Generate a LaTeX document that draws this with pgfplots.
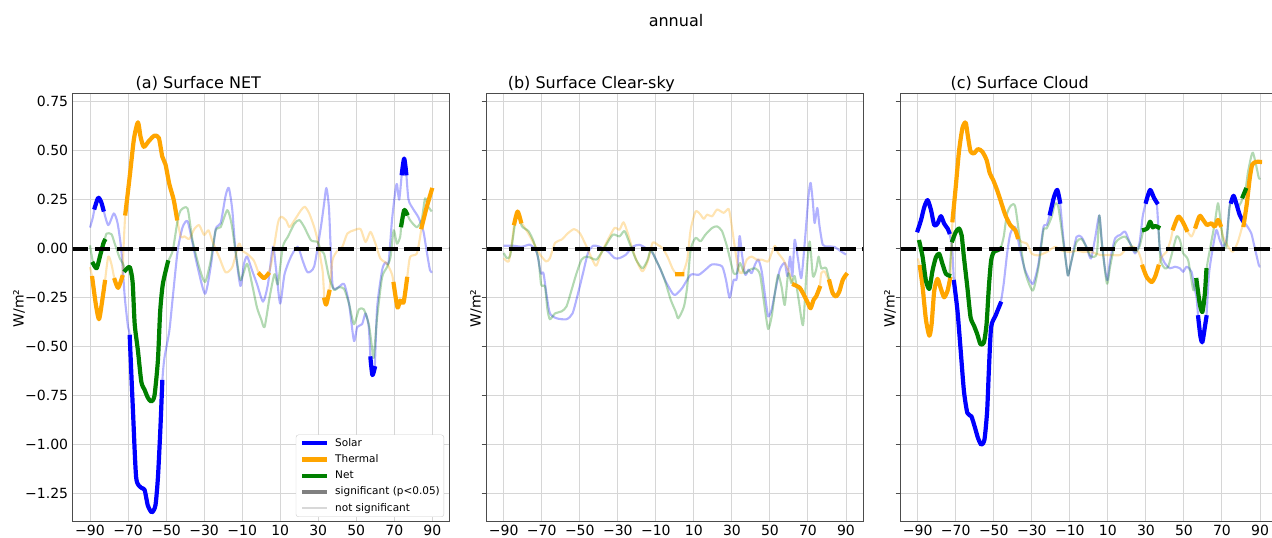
\documentclass[border=0pt]{standalone}
\usepackage{fontspec}
\setmainfont{DejaVu Sans}
\usepackage{pgfplots}
\usepackage{pgfplotstable}
\pgfplotsset{compat=1.18}
\definecolor{cS}{rgb}{0,0,1}
\definecolor{cT}{rgb}{1,0.647,0}
\definecolor{cN}{rgb}{0,0.502,0}

% ---------- (a) Surface NET ----------
\pgfplotstableread{
x y s
-90 0.108 0
-88.5 0.16 0
-87.5 0.21 1
-85.7 0.26 1
-84.2 0.24 1
-83 0.20 1
-80.4 0.12 0
-77.5 0.18 0
-75.5 0.13 0
-73.5 -0.01 0
-71.7 -0.25 0
-70 -0.40 0
-69.1 -0.45 1
-67.4 -0.83 1
-65.7 -1.17 1
-63 -1.22 1
-61.3 -1.23 1
-59.6 -1.31 1
-57.5 -1.345 1
-55.6 -1.31 1
-54.3 -1.17 1
-53 -0.92 1
-52 -0.68 1
-50.9 -0.56 0
-48.3 -0.42 0
-46.5 -0.25 0
-43.9 -0.01 0
-41.3 0.11 0
-38.7 0.14 0
-36.1 0.03 0
-33.5 -0.09 0
-29.5 -0.23 0
-26.5 -0.09 0
-23.9 0.10 0
-21.3 0.13 0
-18.7 0.27 0
-17 0.31 0
-15.2 0.2 0
-13.5 -0.01 0
-10.9 -0.19 0
-9.1 -0.08 0
-7.4 -0.04 0
-4.8 -0.11 0
-2.2 -0.18 0
1 -0.27 0
3.6 -0.18 0
6.2 0.01 0
7.9 -0.11 0
10 -0.28 0
12.3 -0.13 0
15.7 -0.04 0
19.2 0.01 0
21.8 -0.06 0
24.4 -0.12 0
27.9 -0.09 0
31.4 0.11 0
33.1 0.23 0
34.3 0.31 0
35.7 0.2 0
37.5 -0.18 0
40.1 -0.2 0
43.6 -0.18 0
46.2 -0.28 0
48.8 -0.47 0
50.5 -0.40 0
53.1 -0.385 0
54.9 -0.33 0
56.6 -0.40 0
57.5 -0.56 1
58.5 -0.645 1
59.7 -0.61 1
61 -0.30 0
63.6 -0.11 0
65.3 -0.07 0
67 -0.07 0
68.8 0.145 0
70.5 0.29 0
71.4 0.33 0
72.6 0.25 0
74 0.385 1
75.2 0.46 1
76.3 0.385 1
77.5 0.25 0
80.1 0.2 0
82.7 0.16 0
85.3 0.09 0
87 -0.01 0
88.8 -0.11 0
90 -0.12 0
}\aS

\pgfplotstableread{
x y s
-90 -0.094 0
-88.8 -0.15 1
-87 -0.28 1
-85.3 -0.36 1
-83.8 -0.28 1
-82.2 -0.17 1
-80.4 -0.04 0
-78.7 -0.08 0
-77 -0.16 1
-75.2 -0.20 1
-73.1 -0.145 1
-72.3 0.02 0
-71.4 0.18 1
-69.1 0.37 1
-66.9 0.56 1
-64.8 0.645 1
-63.4 0.57 1
-61.7 0.52 1
-59 0.55 1
-56.1 0.577 1
-53.8 0.565 1
-52 0.47 1
-50.3 0.43 1
-48.3 0.33 1
-46 0.25 1
-44.3 0.155 1
-42.2 0.06 0
-40.4 0.063 0
-37.8 0.05 0
-35.2 0.10 0
-32.6 0.12 0
-30 0.07 0
-27.7 0.094 0
-25.7 0.04 0
-22.2 -0.04 0
-18.7 -0.12 0
-15.2 -0.094 0
-11.7 0.026 0
-10 -0.01 0
-7.4 -0.026 0
-3.9 -0.06 0
-1.5 -0.12 0
-0.8 -0.13 1
1.5 -0.15 1
3.6 -0.13 1
5.3 -0.077 0
8.8 0.13 0
10.5 0.163 0
13.1 0.145 0
14.9 0.11 0
17.5 0.145 0
21 0.197 0
23 0.214 0
25.3 0.18 0
27.9 0.11 0
29.7 0.043 0
31.4 -0.06 0
32.4 -0.12 0
33.3 -0.26 1
34.2 -0.285 1
35.8 -0.22 1
37.5 -0.06 0
40.1 -0.01 0
42.7 0.01 0
45.3 0.077 0
48.8 0.094 0
52.3 0.10 0
54.9 0.034 0
57.5 0.086 0
60.1 0.026 0
62.7 -0.05 0
66.2 -0.077 0
68.8 -0.13 0
69.7 -0.18 1
71.7 -0.30 1
73.1 -0.265 1
74.9 -0.274 1
76.7 -0.154 1
78.3 -0.043 0
81.8 -0.026 0
83.6 0.06 0
84.4 0.11 1
87 0.21 1
89.7 0.30 1
}\aT

\pgfplotstableread{
x y s
-90 0.017 0
-88.3 -0.077 1
-86.5 -0.10 1
-84.8 -0.04 1
-83 0.026 1
-82.4 0.04 1
-81.3 0.077 0
-78.7 0.074 0
-77 0.026 0
-74.3 -0.05 0
-72.6 -0.077 0
-71.4 -0.11 1
-69.1 -0.094 1
-67.6 -0.17 1
-66.5 -0.385 1
-64.8 -0.52 1
-63 -0.68 1
-61.3 -0.72 1
-59.6 -0.76 1
-57.8 -0.78 1
-56.1 -0.75 1
-54.3 -0.57 1
-53.1 -0.32 1
-51.7 -0.18 1
-49.1 -0.07 1
-46.5 -0.01 0
-43.9 0.146 0
-42.2 0.197 0
-38.7 0.205 0
-36.1 0.043 0
-32.6 -0.094 0
-29.5 -0.17 0
-26.5 -0.06 0
-23.9 0.094 0
-21.3 0.11 0
-17.8 0.197 0
-15.6 0.128 0
-13.5 -0.01 0
-10.9 -0.16 0
-7.4 -0.077 0
-4.8 -0.18 0
-2.2 -0.30 0
0 -0.36 0
1.8 -0.40 0
4.4 -0.25 0
7 -0.13 0
8.8 -0.18 0
11.4 0.01 0
14 0.06 0
17.5 0.128 0
20.1 0.146 0
22.7 0.11 0
26.2 0.043 0
29.7 0.034 0
31.4 -0.01 0
33.1 -0.026 0
35.7 -0.145 0
38.3 -0.21 0
40.9 -0.197 0
43.6 -0.205 0
46.2 -0.28 0
48.8 -0.385 0
51.4 -0.31 0
54 -0.31 0
56.6 -0.385 0
58.3 -0.505 0
59.2 -0.556 0
61 -0.35 0
63.6 -0.146 0
66.2 -0.094 0
68 -0.043 0
69.7 0.094 0
71.4 0.026 0
73.1 0.06 0
73.7 0.12 1
75.2 0.197 1
76.6 0.18 1
78.3 0.146 0
81.8 0.11 0
84.4 0.146 0
86.2 0.257 0
87.9 0.214 0
89.7 0.19 0
}\aN

% ---------- (b) Surface Clear-sky ----------
\pgfplotstableread{
x y s
-90 0.015 0
-84.8 0.015 0
-80.4 0.01 0
-76.1 0.02 0
-72.6 -0.02 0
-70.5 -0.125 0
-69.1 -0.125 0
-67.4 -0.24 0
-65.7 -0.33 0
-62.2 -0.355 0
-57 -0.36 0
-53.8 -0.33 0
-50.9 -0.227 0
-48.3 -0.125 0
-45.7 -0.022 0
-43 0.015 0
-39.6 0.01 0
-35.2 -0.014 0
-31.7 -0.048 0
-29.1 -0.048 0
-25.7 -0.03 0
-22.2 0.01 0
-18.7 0.02 0
-15.2 0.003 0
-11.7 -0.022 0
-8.3 -0.09 0
-4.8 -0.167 0
-1.3 -0.227 0
0.4 -0.235 0
3.9 -0.2 0
8.3 -0.133 0
12.6 -0.133 0
16.1 -0.107 0
19.6 -0.08 0
24.8 -0.09 0
26.9 -0.16 0
28.8 -0.25 0
30.9 -0.16 0
32.6 -0.15 0
34 0.063 0
35.2 -0.022 0
37 -0.133 0
38.7 -0.107 0
40.4 -0.125 0
42.2 -0.08 0
43.9 -0.056 0
45.7 -0.116 0
47.7 -0.26 0
49.1 -0.346 0
50.9 -0.31 0
52.6 -0.227 0
55.2 -0.107 0
57.8 -0.073 0
59.2 -0.14 0
60.6 -0.04 0
61.8 -0.14 0
63 0.046 0
64.8 -0.056 0
66.5 -0.15 0
68.3 0.03 0
70.3 0.27 0
71.4 0.336 0
72.6 0.234 0
73.5 0.131 0
74.9 0.208 0
76.1 0.114 0
77.8 0.02 0
80.4 0.012 0
83.9 0.009 0
87.4 -0.014 0
90 -0.03 0
}\bS

\pgfplotstableread{
x y s
-90 -0.048 0
-87.4 -0.065 0
-85.7 0.03 0
-84.4 0.13 1
-82.7 0.19 1
-81 0.14 1
-77.8 0.09 0
-74.3 0.03 0
-70.9 -0.03 0
-67.7 -0.065 0
-65.7 -0.048 0
-63 0.03 0
-59.6 0.046 0
-56.1 0.08 0
-53 0.10 0
-50 0.08 0
-46.5 0.012 0
-43.4 -0.056 0
-41.3 -0.087 0
-38.7 -0.022 0
-35.2 0.046 0
-31.7 0.106 0
-29.1 0.097 0
-27 0.135 0
-24.8 0.08 0
-22.2 -0.005 0
-19.6 -0.073 0
-17 -0.116 0
-14.3 -0.065 0
-11.7 0.03 0
-9.1 0.02 0
-6.5 0.003 0
-3.9 -0.04 0
-1.3 -0.1 0
0.4 -0.125 0
1.3 -0.13 1
3.9 -0.13 1
6.5 -0.056 0
8.3 0.097 0
10.9 0.19 0
13.5 0.174 0
15.2 0.152 0
17 0.174 0
19.6 0.165 0
22.2 0.2 0
25.7 0.183 0
28.3 0.203 0
29.7 0.131 0
31.7 -0.005 0
33.5 -0.107 0
35.2 -0.125 0
37.8 -0.056 0
40.4 -0.04 0
43 -0.056 0
45.7 -0.056 0
49.1 -0.065 0
50.9 -0.022 0
52.6 0.015 0
54.3 -0.022 0
57 -0.056 0
59.6 -0.107 0
61.7 -0.167 0
62.7 -0.184 1
65.7 -0.2 1
68.3 -0.244 1
70 -0.278 1
71.4 -0.304 1
73 -0.26 1
74.3 -0.244 1
76.1 -0.2 1
77 -0.125 0
78.7 -0.116 0
80.4 -0.15 0
81.3 -0.167 1
83 -0.227 1
84.8 -0.244 1
86.5 -0.218 1
88.3 -0.159 1
90 -0.133 1
}\bT

\pgfplotstableread{
x y s
-90 -0.022 0
-88.3 -0.048 0
-86.5 -0.03 0
-83.9 0.14 0
-82.7 0.186 0
-80.4 0.114 0
-77 0.09 0
-74.3 0.037 0
-71.7 -0.056 0
-70.3 -0.184 0
-68.3 -0.193 0
-67 -0.31 0
-65.7 -0.36 0
-63 -0.33 0
-59.6 -0.32 0
-57 -0.295 0
-54.3 -0.21 0
-51.7 -0.125 0
-49.1 -0.056 0
-46.5 -0.04 0
-43.9 -0.048 0
-41.3 -0.056 0
-38.7 -0.022 0
-36.1 0.02 0
-32.6 0.072 0
-29.1 0.063 0
-26.5 0.09 0
-23.9 0.03 0
-20.4 -0.056 0
-17 -0.1 0
-14.3 -0.056 0
-12.6 -0.005 0
-10 -0.056 0
-7.4 -0.107 0
-4.8 -0.176 0
-2.2 -0.26 0
0.4 -0.32 0
1.8 -0.355 0
4.8 -0.295 0
6.5 -0.193 0
8.3 -0.005 0
10.9 0.055 0
13.5 0.038 0
16.1 0.072 0
19.6 0.106 0
22.2 0.114 0
24.8 0.09 0
27.4 0.012 0
29.1 -0.056 0
30.9 -0.125 0
32.6 -0.125 0
34.3 -0.073 0
36.6 -0.125 0
39.6 -0.107 0
42.2 -0.1 0
44.8 -0.133 0
47.4 -0.31 0
49.1 -0.41 0
50.9 -0.346 0
52.6 -0.227 0
54.3 -0.133 0
56.1 -0.193 0
57.8 -0.287 0
59.6 -0.125 0
61.3 -0.176 0
63 -0.14 0
65.1 -0.26 0
67.4 -0.39 0
69.1 -0.14 0
70.9 0.037 0
72.6 -0.14 0
74.3 -0.107 0
75.6 -0.04 0
77 -0.1 0
79.6 -0.1 0
82.2 -0.2 0
84.8 -0.244 0
87.4 -0.193 0
89.1 -0.15 0
90 -0.14 0
}\bN

% ---------- (c) Surface Cloud ----------
\pgfplotstableread{
x y s
-90 0.094 1
-88.3 0.145 1
-86.5 0.214 1
-84.8 0.248 1
-83 0.197 1
-81.3 0.12 1
-79.6 0.128 1
-77.8 0.166 1
-76.1 0.128 1
-74.3 0.103 1
-73.5 0.085 1
-72.3 0.03 0
-71.7 -0.026 0
-70.9 -0.17 1
-69.1 -0.316 1
-67.4 -0.52 1
-65.7 -0.726 1
-63.9 -0.838 1
-61.8 -0.855 1
-60.1 -0.906 1
-58.3 -0.966 1
-56.6 -1.0 1
-54.9 -0.974 1
-53.5 -0.83 1
-52.6 -0.624 1
-51.4 -0.40 1
-49.1 -0.342 1
-46.5 -0.28 1
-44.8 -0.18 0
-43 -0.026 0
-41.3 0.077 0
-38.7 0.11 0
-36.1 -0.01 0
-33.5 -0.11 0
-29.5 -0.18 0
-26.5 -0.077 0
-23.9 0.11 0
-22.2 0.12 0
-20.4 0.18 1
-18.3 0.265 1
-16.6 0.3 1
-15.2 0.24 1
-13.5 0.06 0
-11.7 -0.094 0
-10.9 -0.137 0
-9.1 -0.06 0
-6.5 0.06 0
-3.9 0.06 0
-1.3 0.009 0
1.1 -0.05 0
3.4 0.06 0
5.5 0.17 0
6.9 0.027 0
8.6 -0.11 0
9.8 -0.16 0
11.2 -0.058 0
13.8 0.053 0
16.5 0.07 0
19.1 0.087 0
21.7 0.027 0
24.3 -0.024 0
26.6 0.027 0
28.3 0.164 0
30.1 0.24 1
32.2 0.30 1
34.3 0.258 1
35.7 0.236 1
37.4 -0.007 0
40 -0.075 0
42.6 -0.1 0
45.3 -0.092 0
47.9 -0.1 0
49.6 -0.118 0
51.4 -0.092 0
54 -0.118 0
55.4 -0.195 0
56.6 -0.246 0
57.5 -0.35 1
58.7 -0.45 1
59.7 -0.477 1
61 -0.40 1
61.8 -0.35 1
63.2 -0.126 0
65.3 0.01 0
67.1 0.096 0
68.8 0.044 0
70.5 0.01 0
72.3 0.044 0
74 0.215 0
74.9 0.24 1
76.1 0.27 1
77.5 0.232 1
79.3 0.173 1
80.7 0.147 1
82.8 0.121 0
85.4 0.079 0
87.1 0.01 0
89.4 -0.084 0
90 -0.09 0
}\cS

\pgfplotstableread{
x y s
-90 -0.05 0
-88.8 -0.094 1
-87.4 -0.197 1
-85.7 -0.36 1
-83.9 -0.444 1
-82.7 -0.385 1
-81.3 -0.214 1
-79.6 -0.154 1
-77.8 -0.205 1
-76.1 -0.248 1
-74.3 -0.214 1
-73 -0.154 1
-72.3 -0.01 0
-71.7 0.145 1
-70 0.316 1
-68.3 0.496 1
-66.5 0.615 1
-64.8 0.644 1
-63.6 0.573 1
-62.2 0.496 1
-60.4 0.487 1
-58.3 0.508 1
-56.1 0.496 1
-53.8 0.453 1
-52.1 0.385 1
-50.3 0.35 1
-48.3 0.30 1
-46.5 0.248 1
-43.9 0.171 1
-41.3 0.12 1
-38.7 0.094 1
-37.5 0.06 1
-35.2 0.034 0
-32.6 0.026 0
-30 -0.026 0
-26.5 -0.034 0
-22.2 -0.017 0
-17.8 0.009 0
-14.3 -0.009 0
-10 -0.017 0
-6.5 -0.009 0
-3 -0.017 0
0.7 -0.015 0
6 -0.032 0
11.2 -0.032 0
16.5 -0.032 0
19.9 0.002 0
23.4 0.01 0
26 -0.015 0
27.6 -0.058 0
28.3 -0.092 1
30.4 -0.144 1
33 -0.17 1
34.8 -0.144 1
36.5 -0.092 1
38.3 -0.041 0
40.9 -0.015 0
43 0.044 0
44.4 0.104 1
47 0.164 1
49.3 0.138 1
51.4 0.096 1
54 0.062 0
56.2 0.113 1
58.3 0.168 1
60.1 0.147 1
62.2 0.121 1
64.4 0.13 1
66.2 0.113 1
67.9 0.147 1
69.2 0.121 1
70.6 0.062 0
73.2 0.01 0
75.8 -0.015 0
78.4 0.036 0
80.7 0.113 0
81.4 0.121 1
83.1 0.232 1
84.5 0.352 1
85.9 0.429 1
88 0.443 1
90 0.443 1
}\cT

\pgfplotstableread{
x y s
-90 0.04 0
-89.1 0.034 1
-87.4 -0.043 1
-85.7 -0.162 1
-83.9 -0.205 1
-82.2 -0.111 1
-80.4 -0.043 1
-78.7 -0.026 1
-77 -0.077 1
-75.2 -0.128 1
-73.5 -0.137 1
-72.6 -0.03 0
-71.7 0.043 1
-70 0.085 1
-68.3 0.103 1
-66.9 0.068 1
-65.7 -0.043 1
-63.9 -0.197 1
-62.2 -0.35 1
-60.4 -0.393 1
-58.7 -0.436 1
-57 -0.487 1
-55.2 -0.479 1
-53.8 -0.385 1
-52.6 -0.197 1
-51.4 -0.06 1
-50 -0.017 1
-48.3 -0.009 1
-46.5 0.0 1
-44.8 0.06 0
-43 0.18 0
-40.8 0.222 0
-38.7 0.214 0
-36.1 0.034 0
-33.5 -0.12 0
-29.5 -0.214 0
-26.5 -0.094 0
-23.9 0.094 0
-22.2 0.103 0
-19.6 0.162 0
-17.8 0.23 0
-16.1 0.214 0
-13.8 0.06 0
-11.7 -0.094 0
-10.9 -0.137 0
-9.1 -0.06 0
-6.5 0.034 0
-3.9 0.05 0
-1.3 0.009 0
1.1 -0.04 0
4.2 -0.024 0
5.5 0.17 0
6.9 0.02 0
9.5 -0.178 0
11.2 -0.09 0
13.8 0.027 0
16.5 0.053 0
19.1 0.062 0
21.7 0.027 0
24.3 -0.015 0
26.6 0.01 0
28.3 0.079 0
29 0.096 1
30.8 0.104 1
32.2 0.138 1
33.6 0.109 1
34.8 0.116 1
36.5 0.109 1
37.7 -0.058 0
40 -0.1 0
41.7 -0.092 0
43.5 -0.032 0
46.1 0.062 0
47.9 0.044 0
49.6 -0.024 0
52.2 -0.058 0
54.9 -0.212 0
55.8 -0.17 0
56.6 -0.16 1
58.3 -0.28 1
59.7 -0.323 1
61 -0.23 1
61.8 -0.11 1
63.6 -0.007 0
66.2 0.13 0
67.9 0.232 0
69.2 0.147 0
70.6 0.044 0
72.3 0.01 0
74 0.215 0
76.7 0.267 0
78.4 0.215 0
80.2 0.24 0
81 0.267 1
82.4 0.30 1
83.6 0.386 0
85.4 0.472 0
86.3 0.49 0
87.7 0.438 0
89.4 0.36 0
90 0.36 0
}\cN

\pgfplotsset{
  panel/.style={
    scale only axis, width=376.5pt, height=428.4pt,
    xmin=-99, xmax=99, ymin=-1.393, ymax=0.793,
    xtick={-90,-70,-50,-30,-10,10,30,50,70,90},
    ytick={-1.25,-1,-0.75,-0.5,-0.25,0,0.25,0.5,0.75},
    xticklabels={−90,−70,−50,−30,−10,10,30,50,70,90},
    grid=major, major grid style={black!16, line width=1pt},
    axis line style={black!70, line width=1.1pt},
    tick pos=left, tick align=outside,
    ticklabel style={font=\fontsize{14}{16}\selectfont},
    xticklabel style={anchor=north, inner sep=0pt, yshift=-3.7pt},
    yticklabel style={anchor=east, inner sep=0pt, xshift=-4.6pt},
    xtick style={draw=none},
  },
  faint/.style={#1, opacity=0.3, line width=2.1pt, line join=round, smooth, tension=0.4, forget plot},
  sig/.style={#1, line width=4.2pt, line join=round, line cap=rect, smooth, tension=0.4,
    unbounded coords=jump, restrict expr to domain={\thisrow{s}}{0.5:1.5}, forget plot},
  zero/.style={black, line width=4.2pt, dash pattern=on 15.4pt off 6.7pt, forget plot},
}

\begin{document}
\begin{tikzpicture}[x=1pt,y=1pt]
% (a)
\begin{axis}[panel, at={(72.9pt,16.3pt)}, anchor=south west,
  major tick length=0pt,
  yticklabels={−1.25,−1.00,−0.75,−0.50,−0.25,0.00,0.25,0.50,0.75},
  legend style={font=\fontsize{10.5}{12}\selectfont, at={(1,0)}, anchor=south east,
    xshift=-5.4pt, yshift=4.7pt, draw=black!20, rounded corners=2.5pt,
    inner xsep=4pt, inner ysep=3.5pt, row sep=6pt, column sep=6pt,
    nodes={inner sep=0pt, text height=8pt, text depth=2.2pt}},
  legend cell align=left,
  legend image code/.code={\draw[#1] (0pt,0pt) -- (25pt,0pt);}]
\addlegendimage{cS, line width=4.2pt}\addlegendentry{Solar}
\addlegendimage{cT, line width=4.2pt}\addlegendentry{Thermal}
\addlegendimage{cN, line width=4.2pt}\addlegendentry{Net}
\addlegendimage{black!50, line width=4.2pt}\addlegendentry{significant (p<0.05)}
\addlegendimage{black!50, opacity=0.3, line width=2.1pt}\addlegendentry{not significant}
\addplot[faint=cS] table[x=x,y=y]{\aS};
\addplot[faint=cT] table[x=x,y=y]{\aT};
\addplot[faint=cN] table[x=x,y=y]{\aN};
\addplot[sig=cS] table[x=x,y=y]{\aS};
\addplot[sig=cT] table[x=x,y=y]{\aT};
\addplot[sig=cN] table[x=x,y=y]{\aN};
\addplot[zero] coordinates {(-99,0) (99,0)};
\end{axis}
% (b)
\begin{axis}[panel, at={(486.6pt,16.3pt)}, anchor=south west,
  major tick length=4.9pt, ytick style={black!70, line width=1.1pt},
  xticklabel style={yshift=4.9pt},
  yticklabels={}]
\addplot[faint=cS] table[x=x,y=y]{\bS};
\addplot[faint=cT] table[x=x,y=y]{\bT};
\addplot[faint=cN] table[x=x,y=y]{\bN};
\addplot[sig=cT] table[x=x,y=y]{\bT};
\addplot[zero] coordinates {(-99,0) (99,0)};
\end{axis}
% (c)
\begin{axis}[panel, at={(900.6pt,16.3pt)}, anchor=south west,
  major tick length=4.9pt, ytick style={black!70, line width=1.1pt},
  xticklabel style={yshift=4.9pt},
  yticklabels={}]
\addplot[faint=cS] table[x=x,y=y]{\cS};
\addplot[faint=cT] table[x=x,y=y]{\cT};
\addplot[faint=cN] table[x=x,y=y]{\cN};
\addplot[sig=cS] table[x=x,y=y]{\cS};
\addplot[sig=cT] table[x=x,y=y]{\cT};
\addplot[sig=cN] table[x=x,y=y]{\cN};
\addplot[zero] coordinates {(-99,0) (99,0)};
\end{axis}
% titles and labels
\node[anchor=base, inner sep=0pt, font=\fontsize{16}{19}\selectfont] at (676,511.5) {annual};
\node[anchor=base east, inner sep=0pt, font=\fontsize{16}{19}\selectfont] at (261.2,449) {(a) Surface NET};
\node[anchor=base east, inner sep=0pt, font=\fontsize{16}{19}\selectfont] at (674.9,449) {(b) Surface Clear-sky};
\node[anchor=base east, inner sep=0pt, font=\fontsize{16}{19}\selectfont] at (1088.9,449) {(c) Surface Cloud};
\node[rotate=90, anchor=south, inner sep=0pt, font=\fontsize{14}{16}\selectfont] at (25,229.5) {W/m²};
\node[rotate=90, anchor=south, inner sep=0pt, font=\fontsize{14}{16}\selectfont] at (482,229.5) {W/m²};
\node[rotate=90, anchor=south, inner sep=0pt, font=\fontsize{14}{16}\selectfont] at (896,229.5) {W/m²};
\pgfresetboundingbox
\path[use as bounding box] (0,0) rectangle (1272,538);
\end{tikzpicture}
\end{document}
